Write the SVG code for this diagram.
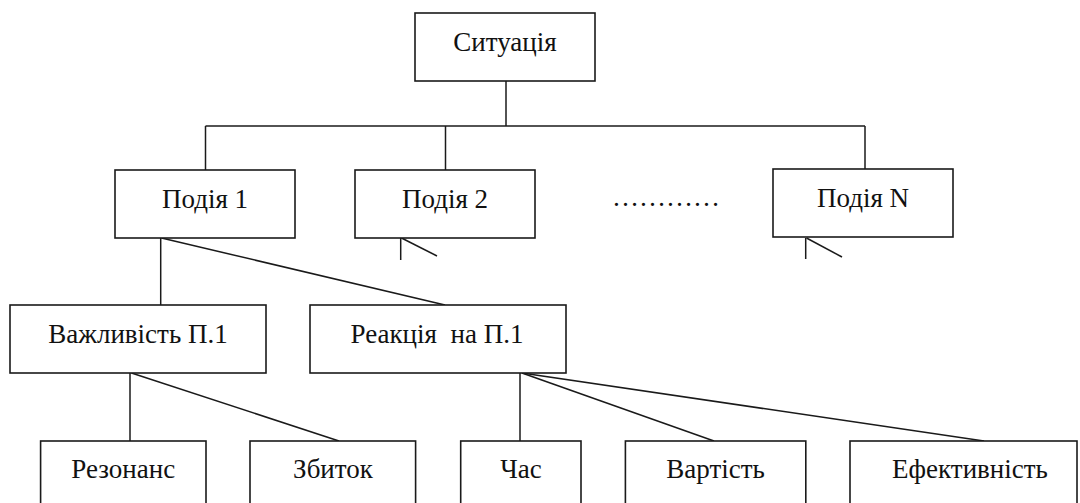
<svg xmlns="http://www.w3.org/2000/svg" width="1080" height="503" viewBox="0 0 1080 503">
<style>
rect.box{fill:#fff;stroke:#1a1a1a;stroke-width:1.6}
text{font-family:'Liberation Serif','Times New Roman',Tinos,'DejaVu Serif',serif;font-size:27px;fill:#111;text-anchor:middle;white-space:pre}
#connectors line{stroke:#1a1a1a;stroke-width:1.5;fill:none}
</style>
<rect width="1080" height="503" fill="#fff"/>
<g id="connectors">
<line x1="506" y1="81" x2="506" y2="126"/>
<line x1="205.5" y1="126" x2="865" y2="126"/>
<line x1="205.5" y1="126" x2="205.5" y2="170"/>
<line x1="445.5" y1="126" x2="445.5" y2="170"/>
<line x1="865" y1="126" x2="865" y2="169"/>
<line x1="160.7" y1="238" x2="160.7" y2="305"/>
<line x1="161.5" y1="238" x2="445" y2="305"/>
<line x1="400.7" y1="238" x2="400.7" y2="260"/>
<line x1="401.5" y1="238" x2="437" y2="256"/>
<line x1="805.7" y1="238" x2="805.7" y2="259"/>
<line x1="806.5" y1="238" x2="842" y2="257"/>
<line x1="130" y1="373" x2="130" y2="441"/>
<line x1="131.5" y1="373" x2="339" y2="441"/>
<line x1="520" y1="373" x2="520" y2="441"/>
<line x1="522" y1="373" x2="714" y2="441"/>
<line x1="522" y1="373" x2="984" y2="441"/>
</g>
<g font-family="Liberation Serif, serif">
<g id="situatsiia"><rect class="box" x="415" y="13" width="180" height="68"/><text x="505" y="50.5">Ситуація</text></g>
<g id="podiia1"><rect class="box" x="115" y="170" width="180" height="68"/><text x="205" y="207.5">Подія 1</text></g>
<g id="podiia2"><rect class="box" x="355" y="170" width="180" height="68"/><text x="445" y="207.5">Подія 2</text></g>
<g id="dots"><text x="612" y="206" style="text-anchor:start">…………</text></g>
<g id="podiiaN"><rect class="box" x="773" y="169" width="180" height="68"/><text x="863" y="206.5">Подія N</text></g>
<g id="vazhlyvist"><rect class="box" x="10" y="305" width="256" height="68"/><text x="138" y="342.5">Важливість П.1</text></g>
<g id="reaktsiia"><rect class="box" x="310" y="305" width="256" height="68"/><text x="437" y="342.5">Реакція  на П.1</text></g>
<g id="rezonans"><rect class="box" x="40.6" y="441" width="165.4" height="80"/><text x="123.3" y="478">Резонанс</text></g>
<g id="zbytok"><rect class="box" x="250" y="441" width="165.6" height="80"/><text x="333" y="478">Збиток</text></g>
<g id="chas"><rect class="box" x="460.7" y="441" width="120.3" height="80"/><text x="521" y="478">Час</text></g>
<g id="vartist"><rect class="box" x="625.4" y="441" width="180.4" height="80"/><text x="715.6" y="478">Вартість</text></g>
<g id="efektyvnist"><rect class="box" x="850" y="441" width="227" height="80"/><text x="970" y="478">Ефективність</text></g>
</g>
</svg>
